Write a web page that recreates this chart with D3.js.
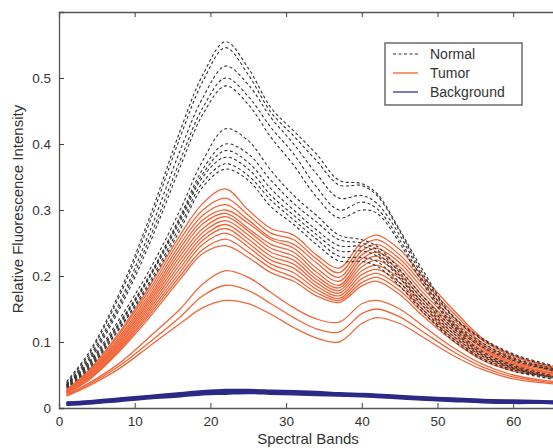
<!DOCTYPE html>
<html><head><meta charset="utf-8">
<script src="https://cdn.jsdelivr.net/npm/d3@7"></script>
<style>
html,body{margin:0;padding:0;background:#fff;}
svg{display:block;font-family:"Liberation Sans",Arial,Helvetica,sans-serif;}
</style></head>
<body><svg id="c" width="553" height="448"></svg>
<script>
// Spectral band sample positions
const bands = [1,4,8,12,16,19,22,25,28,31,34,37,40,42,45,48,52,56,60,64,67];

// Normal tissue spectra (dashed)
const normal = [
 [.040,.085,.175,.290,.420,.505,.555,.515,.455,.420,.385,.345,.340,.325,.270,.210,.140,.105,.082,.068,.060],
 [.038,.082,.170,.282,.410,.495,.546,.505,.448,.412,.375,.338,.337,.322,.268,.205,.138,.103,.080,.066,.058],
 [.036,.078,.160,.268,.390,.470,.518,.490,.440,.400,.355,.318,.322,.310,.262,.200,.132,.098,.076,.063,.056],
 [.035,.075,.155,.258,.375,.455,.500,.472,.425,.385,.335,.300,.312,.302,.255,.195,.128,.095,.074,.061,.054],
 [.034,.072,.150,.250,.365,.445,.488,.460,.410,.368,.320,.288,.300,.295,.250,.190,.125,.092,.072,.060,.053],
 [.035,.070,.135,.210,.300,.375,.423,.405,.360,.322,.292,.262,.255,.245,.210,.170,.122,.085,.065,.052,.045],
 [.034,.068,.130,.202,.290,.362,.400,.385,.345,.310,.282,.255,.250,.240,.205,.165,.118,.082,.063,.050,.044],
 [.033,.066,.128,.200,.287,.355,.390,.372,.332,.300,.270,.246,.245,.235,.200,.160,.114,.080,.061,.049,.043],
 [.032,.064,.126,.198,.283,.350,.380,.362,.322,.292,.263,.238,.238,.230,.197,.156,.110,.078,.060,.048,.042],
 [.031,.062,.122,.192,.276,.342,.370,.352,.315,.285,.256,.230,.228,.222,.190,.150,.106,.075,.058,.047,.041],
 [.030,.060,.120,.188,.270,.335,.362,.345,.305,.278,.248,.223,.222,.215,.185,.146,.103,.073,.056,.046,.040]
];

// Tumor tissue spectra (orange)
const tumor = [
 [.028,.058,.115,.185,.262,.310,.332,.300,.272,.262,.232,.212,.252,.262,.240,.200,.150,.105,.080,.066,.058],
 [.027,.056,.112,.180,.255,.300,.318,.292,.265,.255,.226,.205,.245,.255,.232,.194,.145,.102,.078,.064,.056],
 [.026,.054,.108,.175,.248,.292,.308,.285,.258,.248,.220,.198,.238,.248,.226,.188,.140,.098,.075,.062,.054],
 [.026,.053,.105,.170,.242,.285,.300,.280,.255,.242,.212,.192,.232,.242,.220,.182,.135,.095,.072,.060,.052],
 [.025,.052,.102,.166,.236,.279,.295,.272,.248,.236,.206,.186,.226,.236,.214,.176,.130,.092,.070,.058,.051],
 [.025,.050,.100,.162,.230,.272,.290,.268,.242,.230,.200,.182,.220,.230,.208,.170,.126,.090,.068,.056,.050],
 [.024,.049,.097,.158,.224,.266,.284,.262,.236,.224,.195,.178,.214,.224,.202,.165,.122,.087,.066,.055,.049],
 [.024,.048,.095,.154,.218,.260,.278,.256,.230,.218,.190,.174,.208,.216,.196,.160,.118,.084,.064,.054,.048],
 [.023,.046,.092,.150,.212,.254,.272,.250,.224,.212,.185,.170,.202,.210,.190,.155,.114,.081,.062,.052,.047],
 [.023,.045,.090,.146,.206,.248,.265,.244,.218,.205,.180,.166,.196,.204,.184,.150,.110,.078,.060,.051,.046],
 [.022,.044,.088,.142,.200,.240,.256,.236,.212,.198,.175,.163,.190,.198,.178,.145,.106,.075,.058,.050,.045],
 [.022,.043,.086,.138,.195,.234,.246,.228,.205,.192,.170,.160,.185,.192,.172,.140,.102,.072,.056,.049,.044],
 [.020,.038,.068,.108,.150,.188,.208,.198,.175,.152,.135,.130,.158,.163,.150,.125,.092,.066,.050,.042,.039],
 [.019,.036,.064,.100,.138,.170,.186,.178,.158,.137,.120,.115,.143,.150,.138,.116,.086,.062,.047,.040,.037],
 [.018,.034,.060,.094,.128,.152,.163,.158,.142,.122,.106,.100,.128,.137,.128,.108,.080,.058,.044,.038,.035]
];

// Background spectra (blue)
const background = [
 [.008,.010,.014,.018,.022,.025,.027,.027,.026,.025,.024,.022,.021,.020,.018,.016,.014,.012,.011,.010,.009],
 [.007,.009,.013,.017,.021,.024,.025,.026,.025,.024,.022,.021,.020,.019,.017,.015,.013,.011,.010,.009,.009],
 [.006,.008,.012,.016,.019,.022,.024,.024,.023,.022,.021,.020,.019,.018,.016,.014,.012,.010,.009,.008,.008],
 [.005,.007,.011,.015,.018,.021,.022,.023,.022,.021,.020,.019,.018,.017,.015,.013,.011,.009,.008,.008,.007]
];

const xTicks = [0,10,20,30,40,50,60];
const yTicks = [0,0.1,0.2,0.3,0.4,0.5];
const legendLabels = ["Normal","Tumor","Background"];

const svg = d3.select("#c");
const L = 59, T = 12, B = 408;
const x = d3.scaleLinear().domain([0,70]).range([L, L + 70*7.57]);
const y = d3.scaleLinear().domain([0,0.6]).range([B, T]);

const line = d3.line().x((d,i)=>x(bands[i])).y(d=>y(d)).curve(d3.curveCatmullRom.alpha(0.5));

const plot = svg.append("g");
plot.selectAll(".bg").data(background).join("path")
  .attr("d", line).attr("fill","none").attr("stroke","#2b2a86").attr("stroke-width",2.8);
plot.selectAll(".tu").data(tumor).join("path")
  .attr("d", line).attr("fill","none").attr("stroke","#f0673a").attr("stroke-width",1.3);
plot.selectAll(".no").data(normal).join("path")
  .attr("d", line).attr("fill","none").attr("stroke","#333").attr("stroke-width",1.1)
  .attr("stroke-dasharray","3,2.5");

// Axes (MATLAB style: inward ticks)
const fs = 13.5;
const xb = svg.append("g").attr("transform",`translate(0,${B})`)
  .call(d3.axisBottom(x).tickValues(xTicks).tickSize(-5).tickPadding(8).tickFormat(d3.format("d")));
const xt = svg.append("g").attr("transform",`translate(0,${T})`)
  .call(d3.axisTop(x).tickValues(xTicks).tickSize(-5).tickFormat(""));
const yl = svg.append("g").attr("transform",`translate(${L},0)`)
  .call(d3.axisLeft(y).tickValues(yTicks).tickSize(-5).tickPadding(8).tickFormat(d=>d===0?"0":d3.format(".1f")(d)));
[xb,xt,yl].forEach(g=>{
  g.selectAll("path.domain").attr("stroke","#555").attr("stroke-width",1.3);
  g.selectAll(".tick line").attr("stroke","#444").attr("stroke-width",1);
  g.selectAll(".tick text").attr("fill","#333").style("font-size",fs+"px")
    .style("font-family","'Liberation Sans',Arial,sans-serif");
});

svg.append("text").attr("x",308).attr("y",444).attr("text-anchor","middle")
  .attr("fill","#333").style("font-size","15px").text("Spectral Bands");
svg.append("text").attr("transform","translate(23,209) rotate(-90)").attr("text-anchor","middle")
  .attr("fill","#333").style("font-size","15px").text("Relative Fluorescence Intensity");

// Legend
const lg = svg.append("g");
lg.append("rect").attr("x",385).attr("y",43).attr("width",137).attr("height",62)
  .attr("fill","#fff").attr("stroke","#555").attr("stroke-width",1.3);
const lstyles = [
  {c:"#333",w:1.2,d:"3,2.5"},
  {c:"#f47a45",w:1.5,d:null},
  {c:"#5050a8",w:1.5,d:null}
];
legendLabels.forEach((t,i)=>{
  const yy = 54 + i*19;
  lg.append("line").attr("x1",393).attr("x2",418).attr("y1",yy).attr("y2",yy)
    .attr("stroke",lstyles[i].c).attr("stroke-width",lstyles[i].w)
    .attr("stroke-dasharray",lstyles[i].d);
  lg.append("text").attr("x",430).attr("y",yy+5).attr("fill","#333")
    .style("font-size","14px").text(t);
});
</script></body></html>
